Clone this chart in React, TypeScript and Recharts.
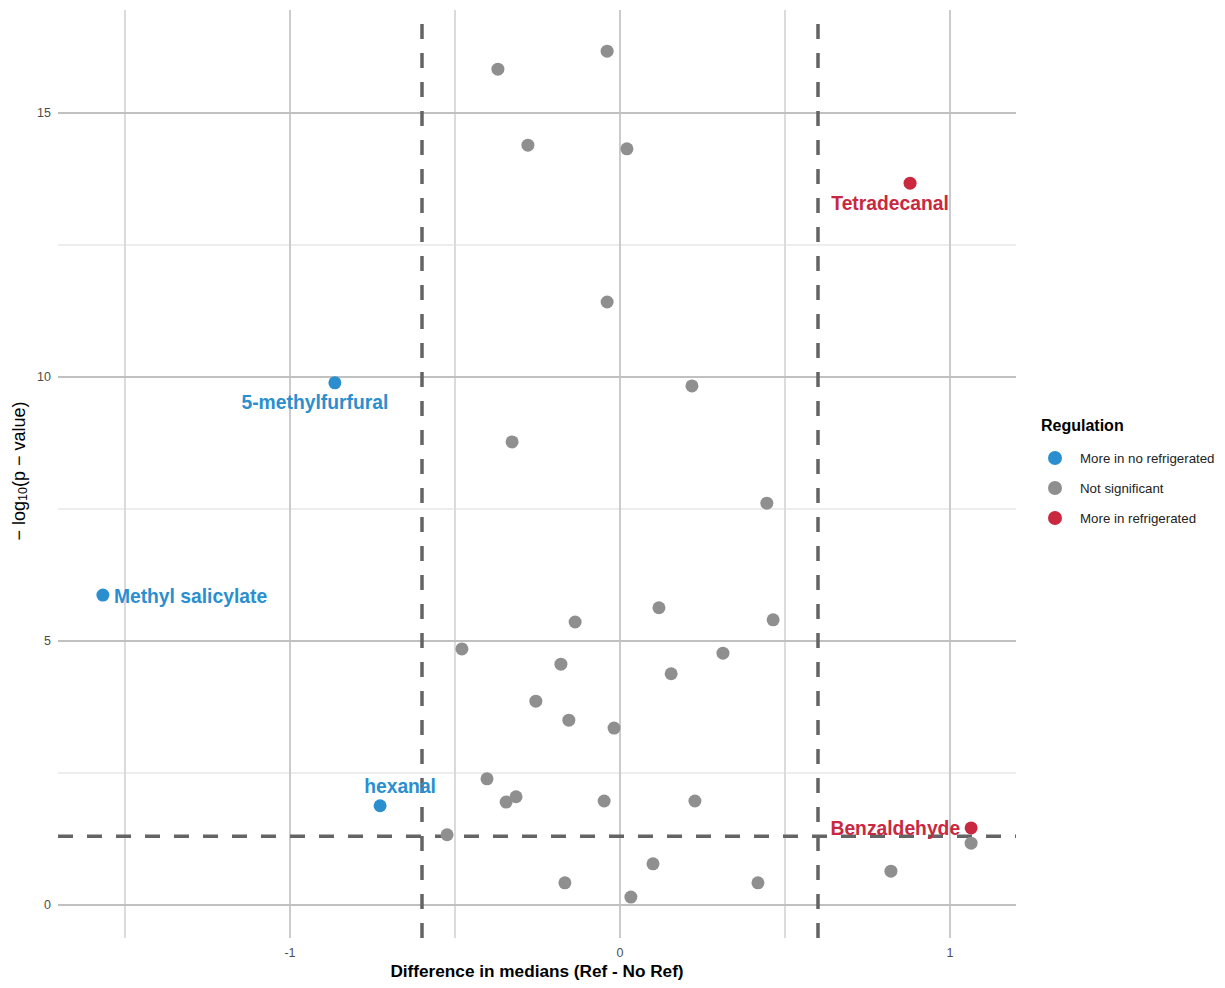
import {
  ScatterChart,
  Scatter,
  XAxis,
  YAxis,
  ReferenceLine,
  Legend,
} from "recharts";

// significant, down (more in no refrigerated)
const downNames = ["5-methylfurfural", "Methyl salicylate", "hexanal"];
const downX = [-0.864, -1.567, -0.727];
const downY = [9.89, 5.87, 1.88];

// significant, up (more in refrigerated)
const upNames = ["Tetradecanal", "Benzaldehyde"];
const upX = [0.879, 1.064];
const upY = [13.67, 1.46];

// not significant
const nsX = [
  -0.039, -0.37, -0.279, 0.021, -0.039, 0.218, -0.327, 0.445, 0.118, -0.136,
  0.464, -0.479, -0.179, 0.312, 0.155, -0.255, -0.155, -0.018, -0.403, -0.345,
  -0.315, -0.048, 0.227, -0.524, 1.064, 0.1, -0.167, 0.418, 0.821, 0.033,
];
const nsY = [
  16.17, 15.83, 14.39, 14.32, 11.42, 9.83, 8.77, 7.61, 5.63, 5.36, 5.4, 4.85,
  4.56, 4.77, 4.38, 3.86, 3.5, 3.35, 2.39, 1.95, 2.05, 1.97, 1.97, 1.33, 1.17,
  0.78, 0.42, 0.42, 0.64, 0.15,
];

const fcCut = [-0.6, 0.6];
const pCut = 1.301;

const xTicks = [-1, 0, 1];
const yTicks = [0, 5, 10, 15];
const xMinor = [-1.5, -0.5, 0.5];
const yMinor = [2.5, 7.5, 12.5];

const legendItems = [
  { label: "More in no refrigerated", color: "#2b8fcf" },
  { label: "Not significant", color: "#8f8f8f" },
  { label: "More in refrigerated", color: "#c9283f" },
];

// where ggrepel ended up putting each label, relative to its point
const labelPlace: Record<string, { dx: number; dy: number; anchor: string }> = {
  "5-methylfurfural": { dx: -20, dy: 20, anchor: "middle" },
  "Methyl salicylate": { dx: 11, dy: 1, anchor: "start" },
  hexanal: { dx: 20, dy: -19, anchor: "middle" },
  Tetradecanal: { dx: -20, dy: 20, anchor: "middle" },
  Benzaldehyde: { dx: -11, dy: 1, anchor: "end" },
};

const FONT = "'Liberation Sans', Arial, sans-serif";

const zip = (xs: number[], ys: number[], names?: string[]) =>
  xs.map((x, i) => ({ x, y: ys[i], name: names ? names[i] : "" }));

const downData = zip(downX, downY, downNames);
const upData = zip(upX, upY, upNames);
const nsData = zip(nsX, nsY);

const dot = (color: string) => (props: any) => {
  const { cx, cy, payload } = props;
  const place = payload.name ? labelPlace[payload.name] : null;
  return (
    <g>
      <circle cx={cx} cy={cy} r={6.5} fill={color} />
      {place && (
        <text
          x={cx + place.dx}
          y={cy + place.dy}
          textAnchor={place.anchor as any}
          dominantBaseline="central"
          fontFamily={FONT}
          fontWeight="bold"
          fontSize={19.3}
          fill={color}
        >
          {payload.name}
        </text>
      )}
    </g>
  );
};

const renderLegend = () => (
  <div style={{ fontFamily: FONT }}>
    <div style={{ fontWeight: "bold", fontSize: 16, color: "#000", marginBottom: 8 }}>
      Regulation
    </div>
    {legendItems.map((it) => (
      <div
        key={it.label}
        style={{ display: "flex", alignItems: "center", height: 30, fontSize: 13.3, color: "#222" }}
      >
        <span
          style={{
            width: 14,
            height: 14,
            borderRadius: "50%",
            background: it.color,
            marginLeft: 7,
            marginRight: 18,
          }}
        />
        {it.label}
      </div>
    ))}
  </div>
);

export default function App() {
  return (
    <div style={{ position: "absolute", left: 0, top: 0, background: "#fff" }}>
      <ScatterChart
        width={1225}
        height={988}
        margin={{ top: 10, right: 25, bottom: 0, left: 0 }}
      >
        {xMinor.map((v) => (
          <ReferenceLine key={"xm" + v} x={v} stroke="#cfcfcf" strokeWidth={1.5} />
        ))}
        {yMinor.map((v) => (
          <ReferenceLine key={"ym" + v} y={v} stroke="#dcdcdc" strokeWidth={1} />
        ))}
        {xTicks.map((v) => (
          <ReferenceLine key={"xM" + v} x={v} stroke="#c6c6c6" strokeWidth={1.8} />
        ))}
        {yTicks.map((v) => (
          <ReferenceLine key={"yM" + v} y={v} stroke="#c0c0c0" strokeWidth={2} />
        ))}
        <XAxis
          type="number"
          dataKey="x"
          domain={[-1.703, 1.2]}
          ticks={xTicks}
          axisLine={false}
          tickLine={false}
          height={50}
          tick={{ fill: "#4d4d4d", fontSize: 12.5, fontFamily: FONT }}
          tickMargin={4}
          label={{
            value: "Difference in medians (Ref - No Ref)",
            position: "insideBottom",
            offset: 11,
            fill: "#000",
            fontSize: 17.2,
            fontWeight: "bold",
            fontFamily: FONT,
          }}
        />
        <YAxis
          type="number"
          dataKey="y"
          domain={[-0.625, 16.95]}
          ticks={yTicks}
          axisLine={false}
          tickLine={false}
          width={58}
          tick={{ fill: "#4d4d4d", fontSize: 12.5, fontFamily: FONT }}
          tickMargin={1}
          label={{
            content: () => (
              <text
                x={19}
                y={471}
                transform="rotate(-90, 19, 471)"
                textAnchor="middle"
                dominantBaseline="central"
                fontFamily={FONT}
                fontSize={18}
                fill="#000"
              >
                − log
                <tspan fontSize={12.5} dy={4}>10</tspan>
                <tspan dy={-4}>(p − value)</tspan>
              </text>
            ),
          }}
        />
        <Scatter
          name="More in no refrigerated"
          data={downData}
          shape={dot("#2b8fcf")}
          isAnimationActive={false}
        />
        <Scatter
          name="Not significant"
          data={nsData}
          shape={dot("#8f8f8f")}
          isAnimationActive={false}
        />
        <Scatter
          name="More in refrigerated"
          data={upData}
          shape={dot("#c9283f")}
          isAnimationActive={false}
        />
        {fcCut.map((v) => (
          <ReferenceLine
            key={"fc" + v}
            x={v}
            stroke="#646464"
            strokeWidth={3.5}
            strokeDasharray="15 14"
          />
        ))}
        <ReferenceLine y={pCut} stroke="#646464" strokeWidth={3.5} strokeDasharray="15 14" />
        <Legend
          content={renderLegend}
          layout="vertical"
          align="right"
          verticalAlign="middle"
          wrapperStyle={{ position: "absolute", left: 1041, top: 417, width: 184 }}
        />
      </ScatterChart>
    </div>
  );
}
